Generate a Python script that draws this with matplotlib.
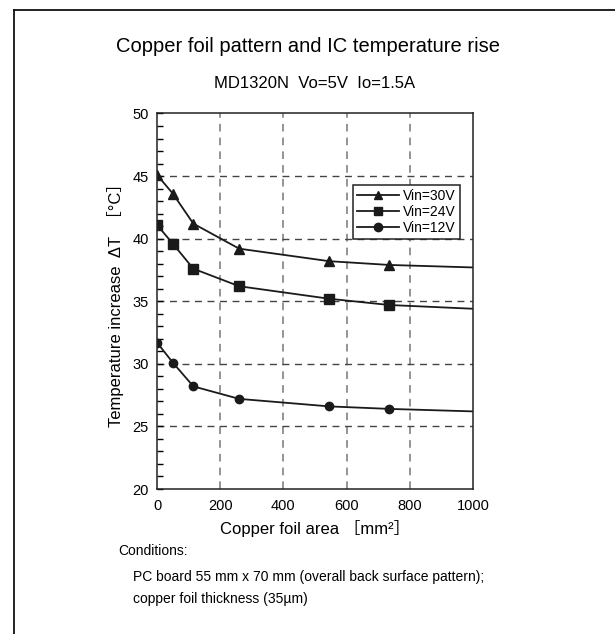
import matplotlib
matplotlib.use("Agg")
import matplotlib.pyplot as plt
from matplotlib.lines import Line2D
from matplotlib.ticker import MultipleLocator

plt.rcParams['font.family'] = ['Liberation Sans', 'Noto Sans CJK JP', 'DejaVu Sans']

area = [0, 50, 115, 260, 545, 735, 1000]
vin30 = [45.1, 43.6, 41.2, 39.2, 38.2, 37.9, 37.7]
vin24 = [41.1, 39.6, 37.6, 36.2, 35.2, 34.7, 34.4]
vin12 = [31.7, 30.1, 28.2, 27.2, 26.6, 26.4, 26.2]
labels = ["Vin=30V", "Vin=24V", "Vin=12V"]
markers = ["^", "s", "o"]
xticks = [0, 200, 400, 600, 800, 1000]
yticks = [20, 25, 30, 35, 40, 45, 50]

fig = plt.figure(figsize=(6.15, 6.34), dpi=100)
ax = fig.add_axes([0.2553, 0.2287, 0.5138, 0.5923])

for ys, m, lab, ms in zip([vin30, vin24, vin12], markers, labels, [6.5, 6.5, 6]):
    ax.plot(area, ys, color="#1a1a1a", lw=1.3, marker=m, ms=ms,
            markevery=list(range(len(area) - 1)), label=lab)

ax.set_xlim(0, 1000)
ax.set_ylim(20, 50)
ax.set_xticks(xticks)
ax.set_yticks(yticks)
ax.yaxis.set_minor_locator(MultipleLocator(1))
ax.tick_params(axis='y', which='both', direction='in', length=4, width=1, labelsize=10.5, pad=6)
ax.tick_params(axis='x', which='both', length=0, labelsize=10.5, pad=7)
for s in ax.spines.values():
    s.set_linewidth(1.1)
    s.set_color("#222222")

for xv in xticks[1:-1]:
    ax.axvline(xv, color="#777777", lw=1.1, ls=(0, (5, 4)), zorder=0)
for yv in yticks[1:-1]:
    ax.axhline(yv, color="#444444", lw=1.0, ls=(0, (5, 4)), zorder=0)

handles = [Line2D([0], [0], color="#1a1a1a", lw=1.3, marker=m, ms=6) for m in markers]
leg = ax.legend(handles, labels, loc='upper left', bbox_to_anchor=(0.62, 0.81),
                fontsize=10, frameon=True, fancybox=False, framealpha=1,
                edgecolor="#222222", handlelength=3.0, handletextpad=0.3,
                borderpad=0.3, labelspacing=0.15, borderaxespad=0)
leg.get_frame().set_linewidth(1.1)

ax.set_xlabel("Copper foil area ［mm²］", fontsize=12, labelpad=5)
ax.set_ylabel("Temperature increase  ΔT  ［°C］", fontsize=12, labelpad=6)

fig.text(0.5, 1 - 47 / 634, "Copper foil pattern and IC temperature rise",
         ha='center', va='center', fontsize=14.5)
fig.text(0.512, 1 - 84 / 634, "MD1320N  Vo=5V  Io=1.5A",
         ha='center', va='center', fontsize=12)

fig.text(118 / 615, 1 - 551 / 634, "Conditions:", ha='left', va='center', fontsize=10)
fig.text(133 / 615, 1 - 577 / 634,
         "PC board 55 mm x 70 mm (overall back surface pattern);",
         ha='left', va='center', fontsize=10)
fig.text(133 / 615, 1 - 599 / 634, "copper foil thickness (35µm)",
         ha='left', va='center', fontsize=10)

# outer frame (top and left edges visible)
fig.add_artist(Line2D([13.5 / 615, 13.5 / 615], [0, 1 - 10 / 634],
                      transform=fig.transFigure, color="#111111", lw=1.3))
fig.add_artist(Line2D([13.5 / 615, 1], [1 - 10 / 634, 1 - 10 / 634],
                      transform=fig.transFigure, color="#111111", lw=1.3))

fig.savefig("out.png", dpi=100)
